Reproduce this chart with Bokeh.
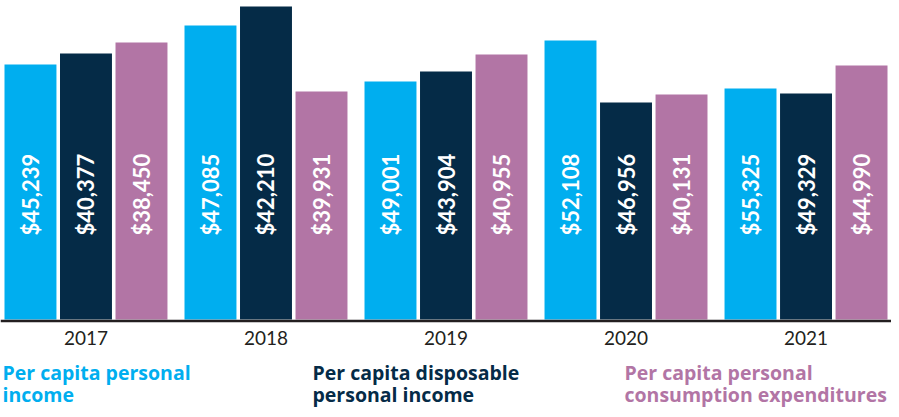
from math import pi
from bokeh.plotting import figure
from bokeh.models import ColumnDataSource, FactorRange, Span, Label, Range1d
from bokeh.transform import factor_cmap
from bokeh.core.properties import value
from bokeh.embed import file_html
from bokeh.resources import INLINE

# ---- data ----
years = ["2017", "2018", "2019", "2020", "2021"]
series_keys = ["personal", "disposable", "consumption"]
series_names = [
    "Per capita personal\nincome",
    "Per capita disposable\npersonal income",
    "Per capita personal\nconsumption expenditures",
]
series_colors = ["#00AEEF", "#052B47", "#B275A5"]

personal_income = [45239, 47085, 49001, 52108, 55325]
disposable_income = [40377, 42210, 43904, 46956, 49329]
consumption_expenditures = [38450, 39931, 40955, 40131, 44990]

# bar heights as drawn in the graphic (relative units, not proportional to the values)
personal_height = [255, 294, 238, 279, 231]
disposable_height = [266, 313, 248, 217, 226]
consumption_height = [277, 228, 265, 225, 254]

# ---- build source ----
xs, tops, labels, keys = [], [], [], []
values_by_series = [personal_income, disposable_income, consumption_expenditures]
heights_by_series = [personal_height, disposable_height, consumption_height]
for i, yr in enumerate(years):
    for k, vals, hts in zip(series_keys, values_by_series, heights_by_series):
        xs.append((yr, k))
        tops.append(hts[i])
        labels.append("${:,}".format(vals[i]))
        keys.append(k)

src = ColumnDataSource(dict(x=xs, top=tops, label=labels, key=keys))

W, H = 891, 409
x_range = FactorRange(*xs, group_padding=0.243, factor_padding=0.0,
                      range_padding=0.04, range_padding_units="absolute")
p = figure(width=W, height=H, x_range=x_range, y_range=Range1d(-90, 319),
           output_backend="svg", toolbar_location=None,
           x_axis_location=None, y_axis_location=None, min_border=0,
           background_fill_color="white", border_fill_color="white")
p.outline_line_color = None
p.xgrid.visible = False
p.ygrid.visible = False

p.vbar(x="x", top="top", bottom=0, width=0.936, source=src,
       fill_color=factor_cmap("key", palette=series_colors, factors=series_keys),
       line_color=None)

p.text(x="x", y=84, text="label", source=src, angle=pi / 2,
       text_align="left", text_baseline="middle", text_color="white",
       text_font=value("Lato"), text_font_style="bold", text_font_size="22px")

p.add_layout(Span(location=-1.5, dimension="width", line_color="#231F20", line_width=2.5))

year_src = ColumnDataSource(dict(x=[(yr, "disposable") for yr in years], text=years))
p.text(x="x", y=-18, text="text", source=year_src, text_align="center",
       text_baseline="middle", text_color="#231F20",
       text_font=value("Lato"), text_font_size="19px")

legend_x = [2, 312, 624]
for name, color, lx in zip(series_names, series_colors, legend_x):
    for j, line in enumerate(name.split("\n")):
        p.add_layout(Label(x=lx, y=-53 - 22 * j, x_units="screen", y_units="data",
                           text=line, text_color=color, text_font="Open Sans",
                           text_font_style="bold", text_font_size="19.5px",
                           text_baseline="alphabetic", text_align="left"))

open("out.html", "w").write(file_html(p, INLINE))
